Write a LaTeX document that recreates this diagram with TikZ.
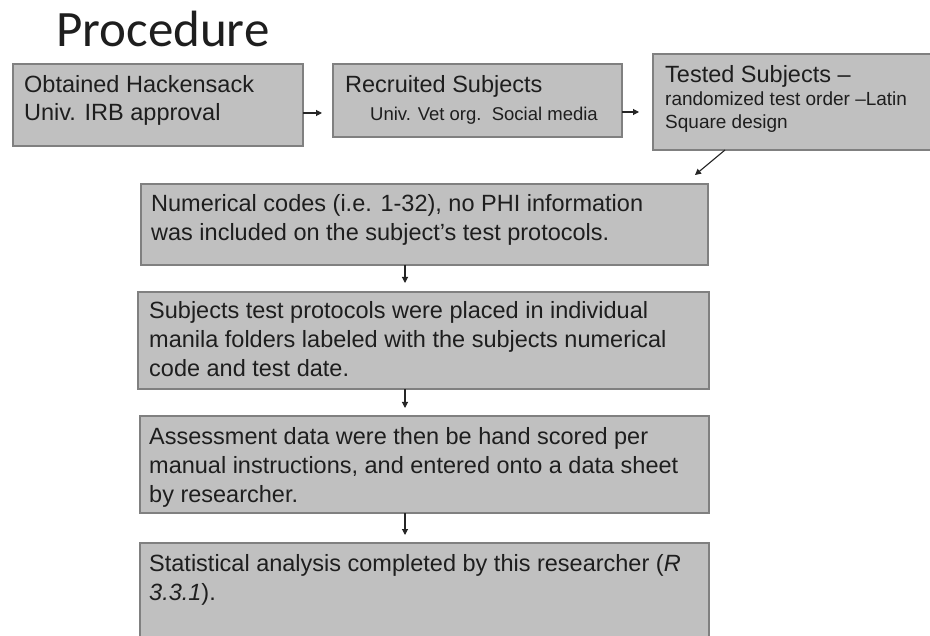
\documentclass[tikz,border=0pt]{standalone}
\usepackage{fontspec}
\setmainfont{Liberation Sans}
\newfontfamily\titlefont{Carlito}
\usetikzlibrary{arrows.meta}
\definecolor{boxfill}{RGB}{192,192,192}
\definecolor{boxline}{RGB}{128,128,128}
\definecolor{txt}{RGB}{30,30,30}
\begin{document}
\begin{tikzpicture}[x=1pt,y=-1pt,
  box/.style={draw=boxline, line width=1.5pt, fill=boxfill, rectangle, anchor=north west, inner sep=0pt, outer sep=0pt},
  big/.style={anchor=base west, inner sep=0pt, text=txt, font=\fontsize{23.5}{28}\selectfont},
  small/.style={anchor=base west, inner sep=0pt, text=txt, font=\fontsize{18.5}{22}\selectfont},
  mid/.style={anchor=base west, inner sep=0pt, text=txt, font=\fontsize{19}{23}\selectfont},
  arr/.style={draw=black!85, line width=1.1pt, -{Triangle[length=6pt,width=6pt]}}]
\clip (0,0) rectangle (930,636);
\fill[white] (0,0) rectangle (930,636);
% title
\node[anchor=base west, inner sep=0pt, text=txt, font=\titlefont\fontsize{51}{60}\selectfont] (title) at (56,47) {Procedure};
% boxes
\node[box, minimum width=290, minimum height=82] (A) at (13,64) {};
\node[box, minimum width=289, minimum height=73] (B) at (333,64) {};
\node[box, minimum width=307, minimum height=96] (C) at (653,54) {};
\node[box, minimum width=567, minimum height=81] (D) at (141,184) {};
\node[box, minimum width=571, minimum height=97] (E) at (138,292) {};
\node[box, minimum width=569, minimum height=97] (F) at (140,416) {};
\node[box, minimum width=569, minimum height=117] (G) at (140,543) {};
% texts
\node[big] (a1) at (24,93) {Obtained Hackensack};
\node[big] (a2) at (24,121) {Univ. IRB approval};
\node[big] (b1) at (345,93) {Recruited Subjects};
\node[small] (b2) at (370,121) {Univ. Vet org.\ \ Social media};
\node[big] (c1) at (665,83) {Tested Subjects –};
\node[mid] (c2) at (665,106) {randomized test order –Latin};
\node[mid] (c3) at (665,129) {Square design};
\node[big] (d1) at (151,212) {Numerical codes (i.e. 1-32), no PHI information};
\node[big] (d2) at (151,241) {was included on the subject’s test protocols.};
\node[big] (e1) at (149,319) {Subjects test protocols were placed in individual};
\node[big] (e2) at (149,348) {manila folders labeled with the subjects numerical};
\node[big] (e3) at (149,377) {code and test date.};
\node[big] (f1) at (149,445) {Assessment data were then be hand scored per};
\node[big] (f2) at (149,474) {manual instructions, and entered onto a data sheet};
\node[big] (f3) at (149,503) {by researcher.};
\node[big] (g1) at (149,571) {Statistical analysis completed by this researcher (\textit{R}};
\node[big] (g2) at (149,600) {\textit{3.3.1}).};
% connectors
\coordinate (ab) at (322,113);
\coordinate (bc) at (639,112);
\coordinate (cd) at (695,175);
\coordinate (de) at (405,283);
\coordinate (ef) at (405,408);
\coordinate (fg) at (405,535);
\draw[arr] (A.east |- ab) -- (ab);
\draw[arr] (B.east |- bc) -- (bc);
\draw[arr] (C.south -| 725,0) -- (cd);
\draw[arr] (D.south -| de) -- (de);
\draw[arr] (E.south -| ef) -- (ef);
\draw[arr] (F.south -| fg) -- (fg);
\end{tikzpicture}
\end{document}
